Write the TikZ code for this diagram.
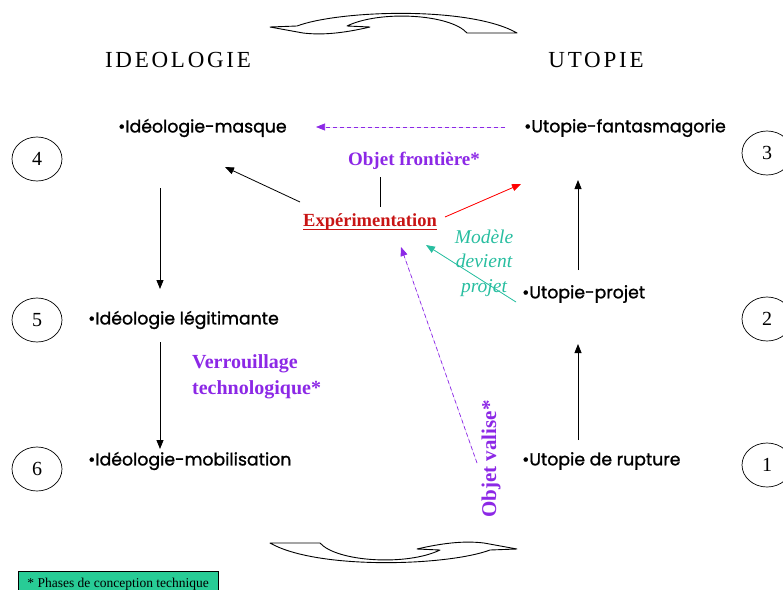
\documentclass[tikz,border=0pt]{standalone}
\usepackage{fontspec}
\setmainfont{Liberation Serif}
\newfontfamily\gothic[FakeBold=1.2]{Poppins}
\newfontfamily\titlefont[LetterSpace=12]{Liberation Serif}
\usetikzlibrary{arrows.meta,shapes.geometric}
\definecolor{vio}{RGB}{140,40,230}
\definecolor{tealc}{RGB}{40,190,160}
\definecolor{dred}{RGB}{200,20,20}
\definecolor{mint}{RGB}{40,204,150}
\begin{document}
\begin{tikzpicture}[x=1pt,y=-1pt,
  item/.style={anchor=west,inner sep=0pt,font=\gothic\fontsize{17.3}{19}\selectfont},
  num/.style={draw,ellipse,line width=0.7pt,minimum width=50pt,minimum height=44pt,inner sep=0pt,font=\fontsize{20}{24}\selectfont},
  ttl/.style={inner sep=0pt,font=\titlefont\fontsize{23}{27}\selectfont},
  lab/.style={inner sep=0pt,text=vio,font=\bfseries\fontsize{19}{24}\selectfont},
  arr/.style={line width=0.8pt,-{Triangle[length=9pt,width=7pt]}},
  curv/.style={draw,line width=0.9pt,fill=white,line join=round}
]
\useasboundingbox (0,0) rectangle (783,589);
\clip (0,0) rectangle (783,589);

% titles
\node[ttl] (tI) at (178,60) {IDEOLOGIE};
\node[ttl] (tU) at (596,60) {UTOPIE};

% curved arrows
\path[curv] (270,27) -- (297,26) .. controls (340,10) and (470,6) .. (517,33)
  -- (467,33) .. controls (450,14) and (380,10) .. (347,26) -- (370,27)
  .. controls (340,34) and (320,35) .. (303,33) -- cycle;
\begin{scope}[shift={(787,576)},xscale=-1,yscale=-1]
\path[curv] (270,27) -- (297,26) .. controls (340,10) and (470,6) .. (517,33)
  -- (467,33) .. controls (450,14) and (380,10) .. (347,26) -- (370,27)
  .. controls (340,34) and (320,35) .. (303,33) -- cycle;
\end{scope}

% numbered ellipses
\node[num] (n4) at (37,159) {4};
\node[num] (n5) at (37,320) {5};
\node[num] (n6) at (37,469) {6};
\node[num] (n3) at (767,153) {3};
\node[num] (n2) at (767,319) {2};
\node[num] (n1) at (767,465) {1};

% items
\node[item] (im) at (118,128) {•Idéologie-masque};
\node[item] (il) at (88,320) {•Idéologie légitimante};
\node[item] (io) at (88,461) {•Idéologie-mobilisation};
\node[item] (uf) at (524,128) {•Utopie-fantasmagorie};
\node[item] (up) at (522,294) {•Utopie-projet};
\node[item] (ur) at (522,461) {•Utopie de rupture};

% middle labels
\node[lab] (of) at (414,161) {Objet frontière*};
\node[inner sep=0pt,text=dred,font=\bfseries\fontsize{18.5}{24}\selectfont] (ex) at (370,222) {Expérimentation};
\draw[dred,line width=0.8pt] ([yshift=-2.5pt]ex.base west) -- ([yshift=-2.5pt]ex.base east);
\node[inner sep=0pt,text=tealc,align=center,font=\itshape\fontsize{19.5}{24.5}\selectfont] (md) at (484,263) {Modèle\\devient\\projet};
\node[lab,anchor=west,align=left,font=\bfseries\fontsize{20}{26}\selectfont] (vt) at (192,377) {Verrouillage\\technologique*};
\node[lab,rotate=90,font=\bfseries\fontsize{21}{24}\selectfont] (ov) at (491,459) {Objet valise*};

% coordinates for connector ends
\coordinate (a1s) at (160,188); \coordinate (a1e) at (160,289);
\coordinate (a2s) at (160,342); \coordinate (a2e) at (160,449);
\coordinate (a3s) at (578,270); \coordinate (a3e) at (578,180);
\coordinate (a4s) at (578,440); \coordinate (a4e) at (578,344);
\coordinate (dps) at (505,127); \coordinate (dpe) at (316,127);
\coordinate (bks) at (300,202); \coordinate (bke) at (225,167);
\coordinate (fls) at (380,177); \coordinate (fle) at (380,207);
\coordinate (rds) at (445,217); \coordinate (rde) at (521,184);
\coordinate (tls) at (516,302); \coordinate (tle) at (426,245);
\coordinate (pvs) at (477,463); \coordinate (pve) at (401,247);

% connectors
\draw[arr] (a1s) -- (a1e);
\draw[arr] (a2s) -- (a2e);
\draw[arr] (a3s) -- (a3e);
\draw[arr] (a4s) -- (a4e);
\draw[arr,draw=vio,fill=vio,dash pattern=on 4pt off 3pt,line width=0.7pt] (dps) -- (dpe);
\draw[arr] (bks) -- (bke);
\draw[line width=0.8pt] (fls) -- (fle);
\draw[arr,draw=red,fill=red] (rds) -- (rde);
\draw[arr,draw=tealc,fill=tealc] (tls) -- (tle);
\draw[arr,draw=vio,fill=vio,dash pattern=on 4pt off 3pt,line width=0.7pt] (pvs) -- (pve);

% footnote box
\node[draw,fill=mint,anchor=north west,minimum width=200pt,minimum height=22pt,inner sep=2pt,text depth=0pt,font=\fontsize{13.5}{16}\selectfont,text height=10pt] (fn) at (18,571) {* Phases de conception technique};
\end{tikzpicture}
\end{document}
